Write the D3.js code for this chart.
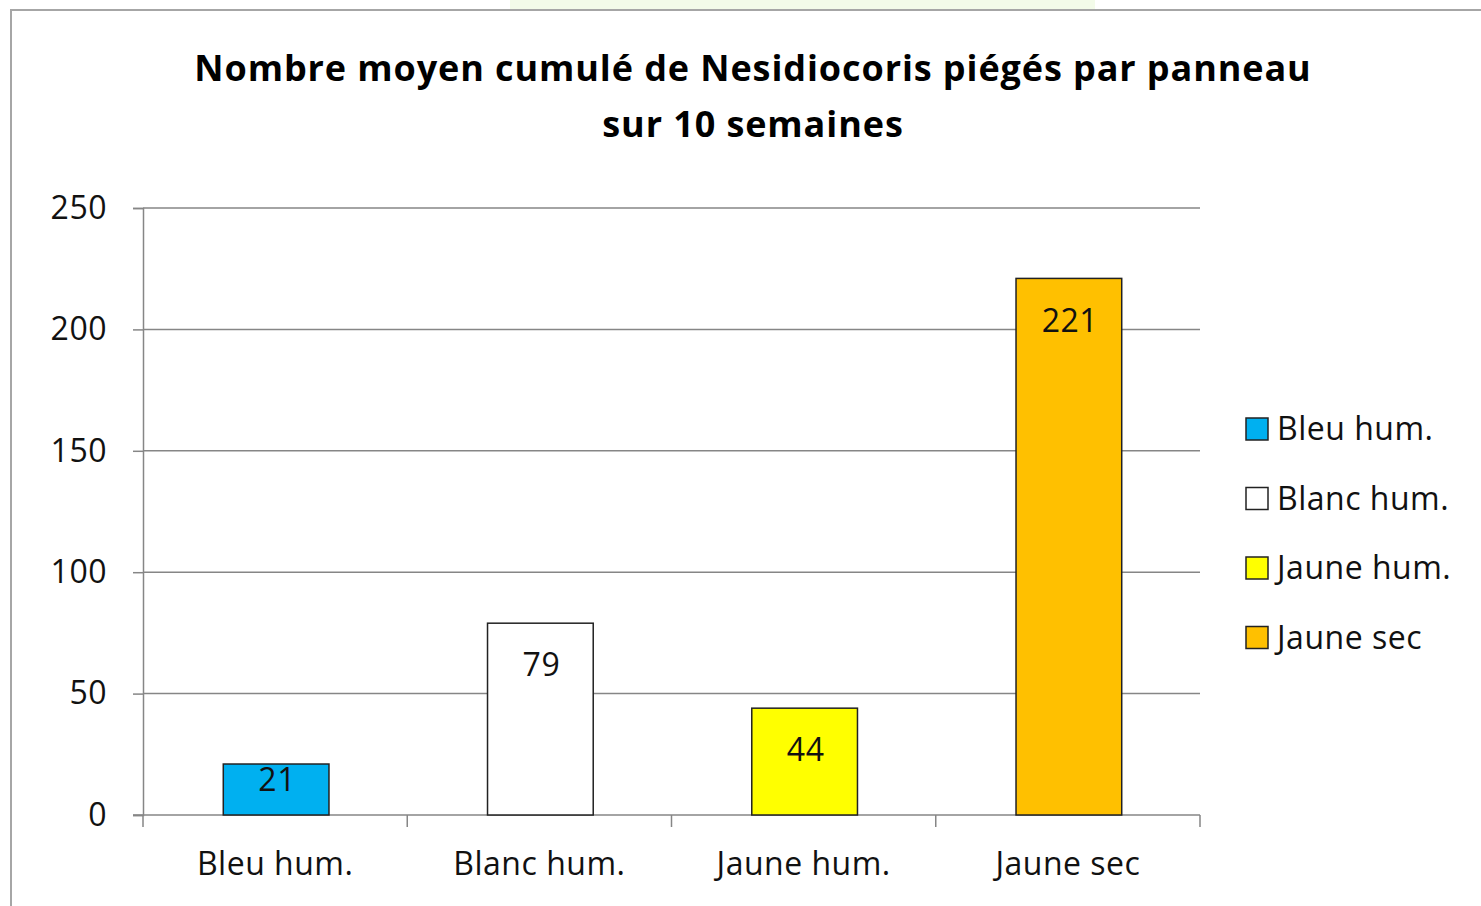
<!DOCTYPE html>
<html>
<head>
<meta charset="utf-8">
<script src="https://cdn.jsdelivr.net/npm/d3@7"></script>
<style>
  body { margin: 0; background: #fff; }
  svg text { font-family: "Open Sans", sans-serif; }
</style>
</head>
<body>
<script>
// data
var categories = ["Bleu hum.", "Blanc hum.", "Jaune hum.", "Jaune sec"];
var values = [21, 79, 44, 221];
var barColors = ["#00b0f0", "#ffffff", "#ffff00", "#ffc000"];
var yTicks = [0, 50, 100, 150, 200, 250];
var titleLines = ["Nombre moyen cumulé de Nesidiocoris piégés par panneau", "sur 10 semaines"];

var svgWidth = 1481, svgHeight = 906;
var margin = { top: 208, left: 143, right: 281, bottom: 91 };
var width = svgWidth - margin.left - margin.right;
var height = svgHeight - margin.top - margin.bottom;

var svg = d3.select("body").append("svg")
    .attr("width", svgWidth)
    .attr("height", svgHeight);

// pale green strip at the very top and the chart frame
svg.append("rect")
    .attr("x", 510).attr("y", 0)
    .attr("width", 585).attr("height", 9)
    .attr("fill", "#f3fbe9");
svg.append("path")
    .attr("d", "M11," + svgHeight + " V10 H" + svgWidth)
    .attr("fill", "none")
    .attr("stroke", "#a6a6a6")
    .attr("stroke-width", 2);

// title
svg.append("g").selectAll("text")
    .data(titleLines)
    .join("text")
    .attr("x", 753)
    .attr("y", function(d, i) { return 81 + i * 56; })
    .attr("text-anchor", "middle")
    .attr("font-size", 36)
    .attr("font-weight", "bold")
    .attr("letter-spacing", 0.9)
    .attr("fill", "#000")
    .text(function(d) { return d; });

var xscale = d3.scaleBand()
    .domain(categories)
    .range([0, width])
    .paddingInner(0.6)
    .paddingOuter(0.3);

var yscale = d3.scaleLinear()
    .domain([0, 250])
    .range([height, 0]);

var g = svg.append("g")
    .attr("transform", "translate(" + margin.left + "," + margin.top + ")");

// gridlines + y axis
var yAxis = g.append("g")
    .call(d3.axisLeft(yscale).tickValues(yTicks).tickSize(10).tickPadding(26));
yAxis.select(".domain").attr("stroke", "#868686").attr("stroke-width", 1.5);
yAxis.selectAll(".tick line").attr("stroke", "#868686").attr("stroke-width", 1.5);
yAxis.selectAll(".tick text")
    .attr("font-size", 32)
    .attr("letter-spacing", 0.5)
    .attr("fill", "#111")
    .attr("font-family", "Open Sans, sans-serif");

g.append("g").selectAll("line")
    .data(yTicks.filter(function(d) { return d > 0; }))
    .join("line")
    .attr("x1", 0).attr("x2", width)
    .attr("y1", function(d) { return yscale(d); })
    .attr("y2", function(d) { return yscale(d); })
    .attr("stroke", "#868686")
    .attr("stroke-width", 1.5);

// x axis with ticks between categories
var xAxis = g.append("g")
    .attr("transform", "translate(0," + height + ")");
xAxis.append("line")
    .attr("x1", -10).attr("x2", width)
    .attr("stroke", "#868686").attr("stroke-width", 1.5);
var step = xscale.step();
xAxis.selectAll(".sep")
    .data(d3.range(categories.length + 1))
    .join("line")
    .attr("class", "sep")
    .attr("x1", function(i) { return i * step; })
    .attr("x2", function(i) { return i * step; })
    .attr("y1", 0).attr("y2", 12)
    .attr("stroke", "#868686").attr("stroke-width", 1.5);
xAxis.selectAll(".cat")
    .data(categories)
    .join("text")
    .attr("class", "cat")
    .attr("x", function(d) { return xscale(d) + xscale.bandwidth() / 2; })
    .attr("y", 60)
    .attr("text-anchor", "middle")
    .attr("font-size", 32)
    .attr("letter-spacing", 0.5)
    .attr("fill", "#111")
    .text(function(d) { return d; });

// bars
g.selectAll(".bar")
    .data(values)
    .join("rect")
    .attr("class", "bar")
    .attr("x", function(d, i) { return xscale(categories[i]) + 1; })
    .attr("y", function(d) { return yscale(d); })
    .attr("width", xscale.bandwidth())
    .attr("height", function(d) { return height - yscale(d); })
    .attr("fill", function(d, i) { return barColors[i]; })
    .attr("stroke", "#222")
    .attr("stroke-width", 1.5);

// value labels, inside end
g.selectAll(".val")
    .data(values)
    .join("text")
    .attr("class", "val")
    .attr("x", function(d, i) { return xscale(categories[i]) + xscale.bandwidth() / 2 + 2; })
    .attr("y", function(d) { return Math.min(yscale(d) + 42, height - 35); })
    .attr("dy", "0.35em")
    .attr("text-anchor", "middle")
    .attr("font-size", 32)
    .attr("letter-spacing", 0.5)
    .attr("fill", "#111")
    .text(function(d) { return d; });

// legend
var legend = svg.append("g")
    .attr("transform", "translate(1246,429)");
var rows = legend.selectAll("g")
    .data(categories)
    .join("g")
    .attr("transform", function(d, i) { return "translate(0," + i * 69.5 + ")"; });
rows.append("rect")
    .attr("x", 0).attr("y", -11)
    .attr("width", 22).attr("height", 22)
    .attr("fill", function(d, i) { return barColors[i]; })
    .attr("stroke", "#222")
    .attr("stroke-width", 1.5);
rows.append("text")
    .attr("x", 31)
    .attr("dy", "0.35em")
    .attr("font-size", 32)
    .attr("letter-spacing", 0.5)
    .attr("fill", "#111")
    .text(function(d) { return d; });
</script>
</body>
</html>
